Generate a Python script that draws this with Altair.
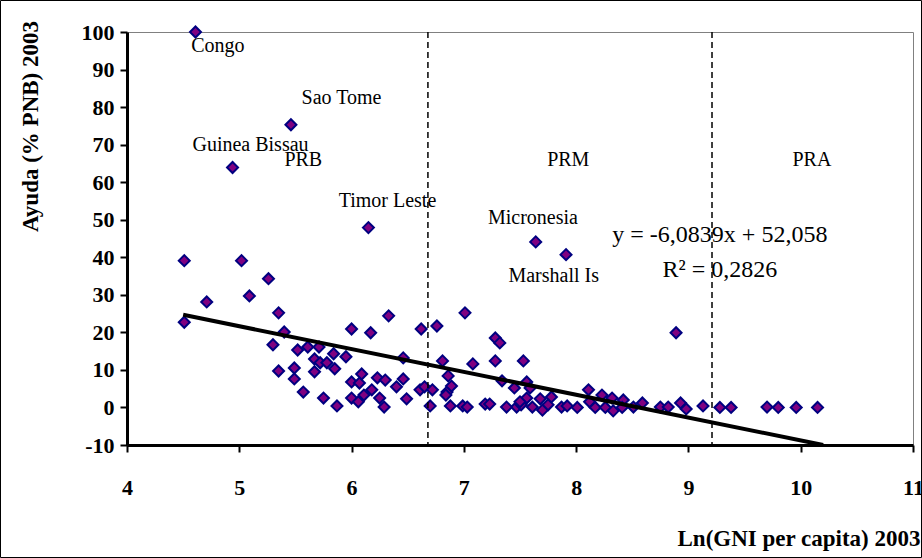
import altair as alt
import pandas as pd

# Scatter data: Ln(GNI per capita) 2003 vs Ayuda (% PNB) 2003
gni_ln = [4.61, 5.46, 4.94, 6.15, 7.64, 7.91, 4.51, 5.02, 5.26, 5.09, 4.71, 5.35, 4.51,
          5.40, 5.30, 5.52, 5.61, 5.71, 5.67, 5.72, 5.78, 5.84, 5.95, 5.85, 5.67, 5.35,
          5.49, 5.49, 5.57, 5.75, 5.87, 6.00, 6.07, 6.00, 6.06, 6.09, 6.17, 6.00, 6.33,
          7.01, 6.62, 6.76, 6.46, 6.81, 6.23, 6.30, 6.46, 6.86, 6.40, 6.18, 6.11, 6.25,
          6.29, 6.49, 6.61, 6.65, 6.72, 6.85, 6.89, 6.70, 6.88, 6.99, 7.03, 6.84, 7.47,
          7.28, 7.32, 7.08, 7.28, 7.53, 7.34, 7.56, 7.45, 7.59, 7.19, 7.23, 7.38, 7.51,
          7.56, 7.61, 7.68, 7.70, 7.75, 7.78, 7.87, 7.92, 7.50, 8.11, 8.23, 8.32, 8.42,
          8.59, 8.01, 8.12, 8.17, 8.26, 8.33, 8.41, 8.51, 8.75, 8.82, 8.89, 8.93, 8.98,
          9.13, 9.28, 9.38, 9.70, 9.80, 9.96, 10.15]
ayuda = [100.0, 75.3, 63.9, 47.9, 44.1, 40.7, 39.1, 39.1, 34.3, 29.7, 28.1, 25.2, 22.7,
         20.1, 16.7, 15.3, 16.1, 16.1, 12.9, 11.9, 11.9, 14.3, 13.5, 10.3, 9.5, 9.7,
         10.5, 7.6, 4.1, 2.5, 0.4, 6.8, 6.5, 2.5, 1.5, 8.9, 19.9, 20.9, 24.4,
         25.2, 20.9, 21.7, 13.2, 12.4, 7.9, 7.3, 7.6, 8.4, 5.5, 4.7, 3.3, 2.5,
         0.1, 2.3, 4.7, 5.5, 4.7, 4.1, 5.7, 0.4, 0.4, 0.4, 0.1, 3.3, 0.1,
         18.5, 17.2, 11.6, 12.4, 12.4, 7.1, 6.8, 5.2, 5.2, 0.9, 0.9, 0.1, 0.7,
         2.5, 0.1, 2.3, -0.7, 0.7, 2.8, 0.1, 0.4, 1.5, 4.7, 3.3, 2.5, 2.0,
         1.2, 0.0, 1.5, 0.0, 0.0, -0.9, 0.0, 0.1, 0.1, 0.1, 19.9, 1.2, -0.4,
         0.4, 0.0, 0.0, 0.1, 0.0, 0.0, 0.0]

# Linear trend (Excel): endpoints
trend_x = [4.5, 10.2]
trend_y = [24.68, -10.0]

# Income-group dividers
divider_x = [6.68, 9.21]

# Annotations
label_text = ["Congo", "Sao Tome", "Guinea Bissau", "PRB", "PRM", "PRA", "Timor Leste",
              "Micronesia", "Marshall Is"]
label_x = [4.81, 5.91, 5.10, 5.57, 7.93, 10.10, 6.32, 7.615, 7.80]
label_y = [96.4, 82.5, 70.0, 66.0, 66.0, 66.0, 55.1, 50.5, 35.1]

eq_text = ["y = -6,0839x + 52,058", "R\u00b2 = 0,2826"]
eq_x = [9.28, 9.28]
eq_y = [46.0, 36.7]

x_ticks = [4, 5, 6, 7, 8, 9, 10, 11]
y_ticks = [-10, 0, 10, 20, 30, 40, 50, 60, 70, 80, 90, 100]

SERIF = "Liberation Serif"

pts = pd.DataFrame({"x": gni_ln, "y": ayuda})
trend = pd.DataFrame({"x": trend_x, "y": trend_y})
divs = pd.DataFrame({"x": divider_x})
labels = pd.DataFrame({"x": label_x, "y": label_y, "t": label_text})
eqs = pd.DataFrame({"x": eq_x, "y": eq_y, "t": eq_text})

xscale = alt.Scale(domain=[4, 11], nice=False, zero=False)
yscale = alt.Scale(domain=[-10, 100], nice=False, zero=False)

x_axis = alt.Axis(values=x_ticks, labelExpr="datum.value + ''",
                  title="Ln(GNI per capita) 2003",
                  labelFont=SERIF, labelFontSize=22, labelFontWeight="bold",
                  labelColor="black", labelPadding=25, tickSize=7, tickWidth=2,
                  tickColor="black", domainColor="black", domainWidth=3, grid=False,
                  labelOverlap=False, labelSeparation=0,
                  titleFont=SERIF, titleFontSize=23, titleFontWeight="bold",
                  titleColor="black", titleAlign="right", titleBaseline="middle",
                  titleX=793, titleY=93, labelFlush=False)
y_axis = alt.Axis(values=y_ticks, labelExpr="datum.value + ''",
                  title="Ayuda (% PNB) 2003",
                  labelFont=SERIF, labelFontSize=22, labelFontWeight="bold",
                  labelColor="black", labelPadding=6, tickSize=7, tickWidth=2,
                  tickColor="black", domainColor="black", domainWidth=3, grid=False,
                  labelOverlap=False, labelSeparation=0,
                  titleFont=SERIF, titleFontSize=23, titleFontWeight="bold",
                  titleColor="black", titleAngle=270, titleAlign="center",
                  titleBaseline="middle", titleX=-97, titleY=94, labelFlush=False)

X = alt.X("x:Q", scale=xscale, axis=x_axis)
Y = alt.Y("y:Q", scale=yscale, axis=y_axis)

points = alt.Chart(pts).mark_point(
    shape="diamond", filled=True, size=121, fill="#800080", stroke="#000080",
    strokeWidth=2, opacity=1
).encode(x=X, y=Y)

dividers = alt.Chart(divs).mark_rule(
    color="black", strokeWidth=1.5, strokeDash=[6, 4]
).encode(x=X)

trend_line = alt.Chart(trend).mark_line(color="black", strokeWidth=4).encode(x=X, y=Y)

texts = alt.Chart(labels).mark_text(
    font=SERIF, fontSize=20, color="black", align="center", baseline="middle"
).encode(x=X, y=Y, text="t:N")

eq_texts = alt.Chart(eqs).mark_text(
    font=SERIF, fontSize=24, color="black", align="center", baseline="middle"
).encode(x=X, y=Y, text="t:N")

frame = alt.Chart(alt.Data(values=[{}])).mark_rect(
    fill="white", fillOpacity=0, stroke="black", strokeWidth=1
).encode(
    x=alt.value(-126.5), x2=alt.value(794.5), y=alt.value(-31.5), y2=alt.value(525.5)
)

chart = alt.layer(points, dividers, trend_line, texts, eq_texts, frame).properties(
    width=786, height=413,
    autosize=alt.AutoSizeParams(type="none"),
    padding={"left": 127, "top": 32, "right": 9, "bottom": 113},
    background="white",
).configure_view(stroke="#808080", strokeWidth=1).configure_axis(
    labelOverlap=False, labelBound=False
)

chart.save("out.html", embed_options={"renderer": "svg", "actions": False})
